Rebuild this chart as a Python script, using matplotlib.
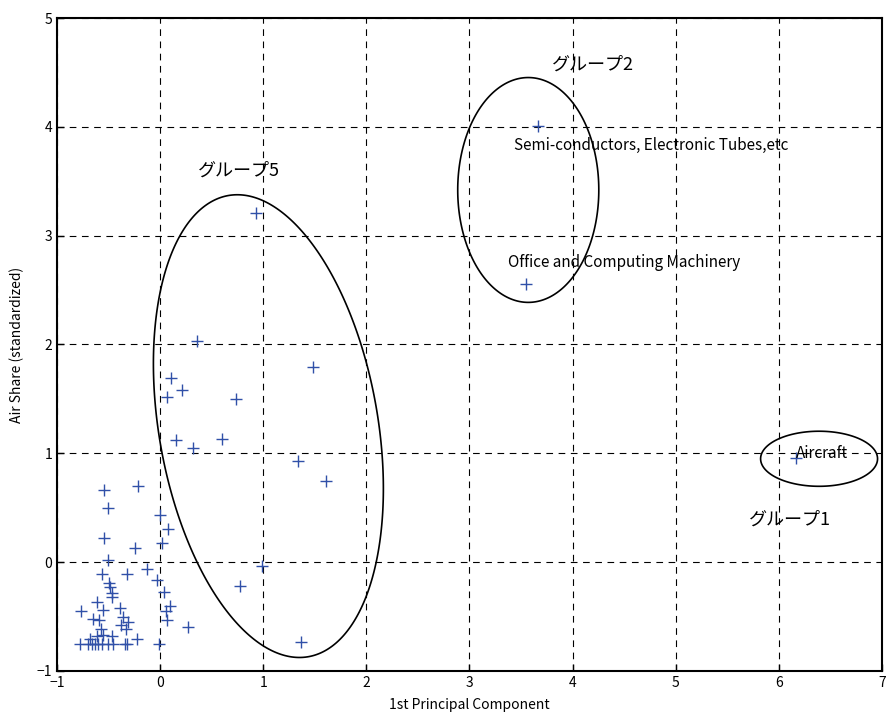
import numpy as np
import matplotlib
matplotlib.use("Agg")
import matplotlib.pyplot as plt
from matplotlib.patches import Polygon

plt.rcParams["font.family"] = ["Noto Sans CJK JP", "DejaVu Sans"]

# 1st principal component vs standardized air share, one point per industry
pc1 = [3.66, 3.55, 6.17, 0.93, 0.36, 1.48, 0.11, 0.21, 0.07, 0.74,
       0.15, 0.32, 0.60, 1.34, 1.61, 0.77, 0.99, 1.37, 0.00, 0.08,
       0.02, -0.13, -0.03, 0.04, 0.10, 0.06, 0.07, 0.27, -0.01, -0.21,
       -0.54, -0.51, -0.54, -0.24, -0.51, -0.56, -0.32, -0.50, -0.49, -0.47,
       -0.47, -0.77, -0.61, -0.55, -0.39, -0.65, -0.59, -0.36, -0.31, -0.38,
       -0.33, -0.57, -0.61, -0.55, -0.47, -0.68, -0.22,
       -0.78, -0.70, -0.66, -0.63, -0.60, -0.56, -0.51, -0.46, -0.34, -0.32]
air_share = [4.01, 2.56, 0.96, 3.21, 2.03, 1.79, 1.69, 1.58, 1.52, 1.50,
             1.12, 1.05, 1.13, 0.93, 0.75, -0.22, -0.04, -0.73, 0.43, 0.30,
             0.18, -0.06, -0.16, -0.27, -0.40, -0.45, -0.53, -0.60, -0.75, 0.70,
             0.66, 0.50, 0.22, 0.13, 0.02, -0.11, -0.11, -0.19, -0.23, -0.28,
             -0.32, -0.45, -0.37, -0.44, -0.42, -0.52, -0.53, -0.50, -0.55, -0.58,
             -0.61, -0.61, -0.68, -0.67, -0.68, -0.71, -0.71,
             -0.75, -0.75, -0.75, -0.75, -0.75, -0.75, -0.75, -0.75, -0.75, -0.75]

# hand-drawn group outlines: centre x, centre y, half-width, half-height, correlation
groups = [(1.05, 1.25, 1.115, 2.126, -0.27),
          (3.57, 3.42, 0.684, 1.033, 0.0),
          (6.39, 0.95, 0.567, 0.253, 0.0)]

group_names = ["グループ5", "グループ2", "グループ1"]
group_label_xy = [(0.76, 3.60), (4.20, 4.57), (6.11, 0.39)]

point_names = ["Semi-conductors, Electronic Tubes,etc",
               "Office and Computing Machinery",
               "Aircraft"]
point_label_xy = [(3.43, 3.83), (3.37, 2.75), (6.17, 1.00)]

fig = plt.figure(figsize=(8.89, 7.18), dpi=100)
ax = fig.add_axes([0.0641, 0.0655, 0.928, 0.9094])

ax.plot(pc1, air_share, "+", color="#3050a8", markersize=9, markeredgewidth=1.0)

t = np.linspace(0, 2 * np.pi, 400, endpoint=False)
for cx, cy, ex, ey, rho in groups:
    phi = np.arccos(rho)
    outline = np.column_stack([cx + ex * np.cos(t), cy + ey * np.cos(t + phi)])
    ax.add_patch(Polygon(outline, closed=True, fill=False,
                         edgecolor="black", linewidth=1.2))

for name, (x, y) in zip(group_names, group_label_xy):
    ax.text(x, y, name, fontsize=13, ha="center", va="center")

for name, (x, y) in zip(point_names, point_label_xy):
    ax.text(x, y, name, fontsize=11, ha="left", va="center")

ax.set_xlim(-1, 7)
ax.set_ylim(-1, 5)
ax.set_xticks(range(-1, 8))
ax.set_yticks(range(-1, 6))
ax.grid(True, color="black", linestyle=(0, (6, 5)), linewidth=0.8)
ax.tick_params(direction="in", labelsize=10, length=5, width=1)
for side in ax.spines.values():
    side.set_linewidth(1.5)

ax.set_xlabel("1st Principal Component", fontsize=10, labelpad=6)
ax.set_ylabel("Air Share (standardized)", fontsize=10, labelpad=9)

fig.savefig("out.png", dpi=100)
